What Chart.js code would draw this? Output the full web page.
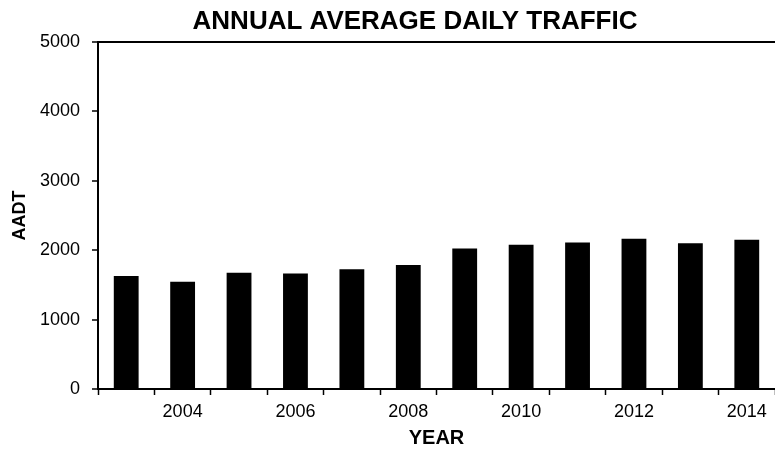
<!DOCTYPE html>
<html>
<head>
<meta charset="utf-8">
<script src="https://cdn.jsdelivr.net/npm/chart.js@4/dist/chart.umd.min.js"></script>
<style>
  html, body { margin: 0; padding: 0; background: #fff; overflow: hidden; }
  #wrap { width: 775px; height: 455px; }
</style>
</head>
<body>
<div id="wrap"><canvas id="aadt-chart"></canvas></div>
<script>
// 数据
const years = ['2003', '2004', '2005', '2006', '2007', '2008', '2009', '2010', '2011', '2012', '2013', '2014'];
const aadtValues = [1630, 1545, 1675, 1665, 1725, 1785, 2025, 2080, 2110, 2165, 2100, 2150];
const yTicks = [0, 1000, 2000, 3000, 4000, 5000];
const chartTitle = 'ANNUAL AVERAGE DAILY TRAFFIC';

const FONT = '"Liberation Sans", Arial, sans-serif';

// 标题（图表略偏右居中）
const titlePlugin = {
    id: 'topTitle',
    afterDraw(chart) {
        const ctx = chart.ctx;
        ctx.save();
        ctx.font = 'bold 26px ' + FONT;
        ctx.fillStyle = '#000';
        ctx.textAlign = 'center';
        ctx.textBaseline = 'middle';
        ctx.fillText(chartTitle, 415, 22);
        ctx.restore();
    }
};

const ctx = document.getElementById('aadt-chart').getContext('2d');
new Chart(ctx, {
    type: 'bar',
    data: {
        labels: years,
        datasets: [{
            label: 'AADT',
            data: aadtValues,
            backgroundColor: '#000',
            borderWidth: 0,
            categoryPercentage: 1,
            barPercentage: 0.44
        }]
    },
    options: {
        responsive: true,
        maintainAspectRatio: false,
        animation: false,
        layout: { padding: { top: 42, left: 0, right: 0, bottom: 0 } },
        plugins: {
            legend: { display: false },
            title: { display: false },
            tooltip: { enabled: false }
        },
        scales: {
            x: {
                offset: true,
                grid: {
                    offset: true,
                    drawOnChartArea: false,
                    tickLength: 6,
                    tickColor: '#000',
                    tickWidth: 1.5
                },
                border: { color: '#000', width: 2 },
                ticks: {
                    autoSkip: false,
                    maxRotation: 0,
                    padding: 6,
                    color: '#000',
                    font: { family: FONT, size: 18 },
                    callback(value, index) {
                        const y = years[index];
                        return Number(y) % 2 === 0 ? y : '';
                    }
                },
                title: {
                    display: true,
                    text: 'YEAR',
                    color: '#000',
                    font: { family: FONT, size: 20, weight: 'bold' },
                    padding: { top: 2, bottom: 5 }
                },
                afterFit(scale) { scale.height = 66; }
            },
            y: {
                min: 0,
                max: 5000,
                afterBuildTicks(scale) {
                    scale.ticks = yTicks.map(v => ({ value: v }));
                },
                grid: {
                    color: c => (c.tick && c.tick.value === 5000 ? '#000' : 'rgba(0,0,0,0)'),
                    lineWidth: 2,
                    tickLength: 6,
                    tickColor: '#000',
                    tickWidth: 1.5
                },
                border: { color: '#000', width: 2 },
                ticks: {
                    padding: 12,
                    color: '#000',
                    font: { family: FONT, size: 18 },
                    callback: v => String(v)
                },
                title: {
                    display: true,
                    text: 'AADT',
                    color: '#000',
                    font: { family: FONT, size: 18, weight: 'bold' },
                    padding: { top: 9, bottom: 4 }
                },
                afterFit(scale) { scale.width = 98; }
            }
        }
    },
    plugins: [titlePlugin]
});
</script>
</body>
</html>
